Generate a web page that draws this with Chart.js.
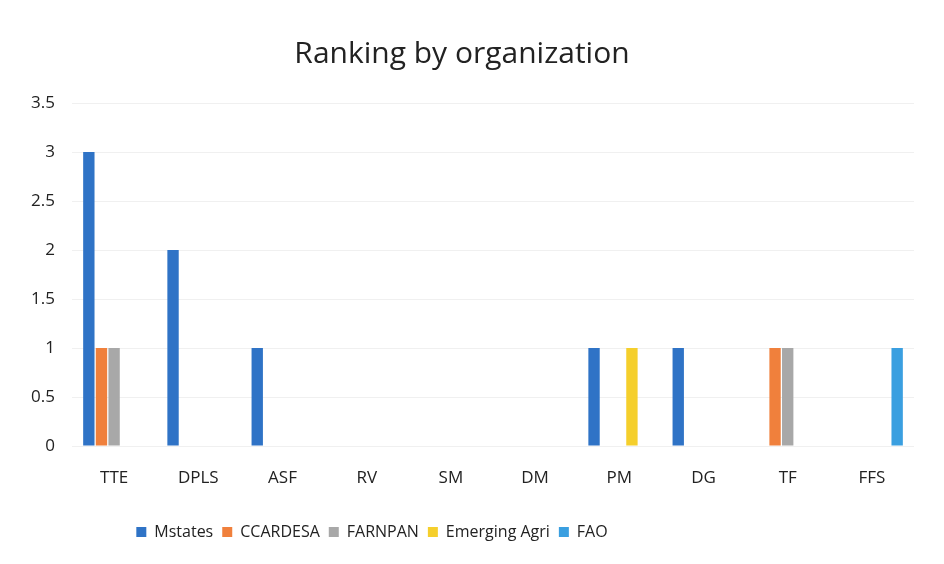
<!DOCTYPE html>
<html>
<head>
<meta charset="utf-8">
<script src="https://cdn.jsdelivr.net/npm/chart.js@4"></script>
<style>
  html, body { margin: 0; padding: 0; background: #fff; }
  #wrap { width: 944px; height: 564px; }
</style>
</head>
<body>
<div id="wrap"><canvas id="rankChart"></canvas></div>
<script>
const categories = ["TTE", "DPLS", "ASF", "RV", "SM", "DM", "PM", "DG", "TF", "FFS"];
const mstates = [3, 2, 1, 0, 0, 0, 1, 1, 0, 0];
const ccardesa = [1, 0, 0, 0, 0, 0, 0, 0, 1, 0];
const farnpan = [1, 0, 0, 0, 0, 0, 0, 0, 1, 0];
const emergingAgri = [0, 0, 0, 0, 0, 0, 1, 0, 0, 0];
const fao = [0, 0, 0, 0, 0, 0, 0, 0, 0, 1];

const FONT = "'Open Sans', 'Noto Sans', sans-serif";

function bars(label, data, colour) {
	return {
		label: label,
		data: data,
		backgroundColor: colour,
		borderWidth: 0,
		categoryPercentage: 0.75,
		barPercentage: 0.9
	};
}

// shift the legend left, like in the original picture
const legendShift = {
	id: "legendShift",
	afterLayout(chart) {
		chart.legend.left = 0;
		chart.legend.right = 744;
	}
};

const RANKCHART = document.getElementById("rankChart");
let rankChart = new Chart(RANKCHART, {
	type: 'bar',
	data: {
		labels: categories,
		datasets: [
			bars("Mstates", mstates, "#2f73c6"),
			bars("CCARDESA", ccardesa, "#f0803c"),
			bars("FARNPAN", farnpan, "#a8a8a8"),
			bars("Emerging Agri", emergingAgri, "#f5cf2c"),
			bars("FAO", fao, "#3a9fe0")
		]
	},
	options: {
		responsive: true,
		maintainAspectRatio: false,
		animation: false,
		layout: { padding: { left: 10, right: 30, top: 0, bottom: 14 } },
		plugins: {
			title: {
				display: true,
				text: "Ranking by organization",
				color: "#222",
				font: { family: FONT, size: 30, weight: 'normal' },
				padding: { top: 36, bottom: 31 }
			},
			legend: {
				position: 'bottom',
				align: 'center',
				labels: {
					color: "#222",
					font: { family: FONT, size: 16 },
					boxWidth: 10,
					boxHeight: 10,
					padding: 9
				}
			},
			tooltip: { enabled: false }
		},
		scales: {
			x: {
				grid: { display: false, drawTicks: false },
				border: { display: false },
				ticks: { color: "#222", font: { family: FONT, size: 17 }, padding: 22 },
				afterFit(scale) { scale.height = 69; }
			},
			y: {
				min: 0,
				max: 3.5,
				grid: { color: "#f0f0f0", drawTicks: false },
				border: { display: false },
				ticks: {
					stepSize: 0.5,
					color: "#222",
					font: { family: FONT, size: 17 },
					padding: 17,
					callback: (value) => String(value)
				},
				afterFit(scale) { scale.width = 62; }
			}
		}
	},
	plugins: [legendShift]
});
</script>
</body>
</html>
